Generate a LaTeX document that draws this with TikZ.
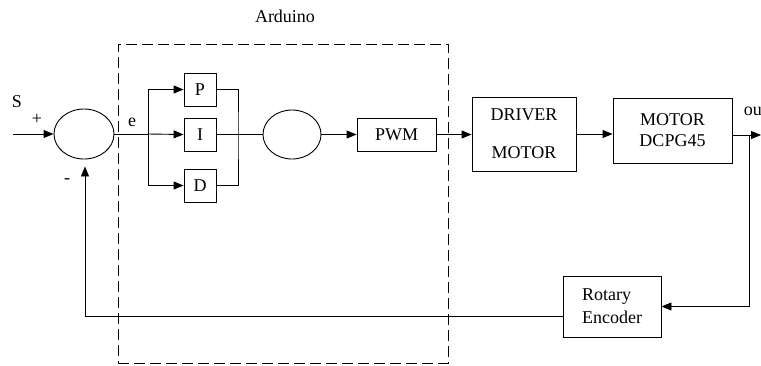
\documentclass[tikz,border=0pt]{standalone}
\usepackage{fontspec}
\setmainfont{Liberation Serif}
\usetikzlibrary{arrows.meta,shapes.geometric}

\begin{document}
\begin{tikzpicture}[x=1pt,y=-1pt,font=\fontsize{18}{20}\selectfont,
    line width=0.9pt,>={Triangle[length=10pt,width=8pt]},
    blk/.style={draw,rectangle,inner sep=0pt,align=center},
    summer/.style={draw,ellipse,inner sep=0pt,minimum width=60pt,minimum height=50pt},
    frame/.style={draw,dash pattern=on 11pt off 5pt,inner sep=0pt}]
  \useasboundingbox (0,0) rectangle (761,365);
  % arduino frame
  \node[frame,minimum width=330pt,minimum height=319pt] (ard) at (283,203.5) {};
  \node (ardlbl) at (285,16) {Arduino};
  % summing points
  \node[summer] (sumA) at (84,134) {};
  \node[summer,minimum width=58pt,minimum height=49pt] (sumB) at (292,134.5) {};
  % controller terms
  \node[blk,minimum width=32pt,minimum height=33pt] (P) at (200,89.5) {P};
  \node[blk,minimum width=32pt,minimum height=33pt] (I) at (200,134.5) {I};
  \node[blk,minimum width=32pt,minimum height=33pt] (D) at (200,185.5) {D};
  \node[blk,minimum width=79pt,minimum height=33pt] (pwm) at (396.5,134.5) {PWM};
  % plant
  \node[blk,minimum width=104pt,minimum height=74pt] (drv) at (524,134) {DRIVER\\[18pt]MOTOR};
  \node[blk,minimum width=119pt,minimum height=65pt] (mot) at (672.5,130.5) {MOTOR\\[1pt]DCPG45};
  \node[blk,minimum width=98pt,minimum height=61pt,align=left] (enc) at (612,306.5) {Rotary\\[3pt]Encoder};
  % labels
  \node (slbl) at (17,102) {S};
  \node (plus) at (37,119) {+};
  \node (minus) at (67,181) {-};
  \node (elbl) at (132,122) {e};
  \node[anchor=west] (outlbl) at (740,111) {ou};
  % signal lines
  \coordinate (in) at (13,134);
  \coordinate (split) at (148,134);
  \coordinate (join) at (238,134);
  \coordinate (out) at (761,135);
  \coordinate (tap) at (749,135);
  \coordinate (fb) at (85,316);
  \draw[->] (in) -- (sumA.west);
  \draw (sumA.east) -- (split);
  \draw[->] (split) |- (P.west);
  \draw[->] (split) -- (I.west);
  \draw[->] (split) |- (D.west);
  \draw (P.east) -| (join) |- (D.east);
  \draw (I.east) -- (sumB.west);
  \draw[->] (sumB.east) -- (pwm.west);
  \draw[->] (pwm.east) -- (pwm.east -| drv.west);
  \draw[->] (drv.east) -- (drv.east -| mot.west);
  \draw[->] (mot.east |- out) -- (out);
  \draw[->] (tap) |- (enc.east);
  % feedback
  \draw[->,shorten >=7pt] (enc.west |- fb) -- (fb) -- (fb |- sumA.south);
\end{tikzpicture}
\end{document}
